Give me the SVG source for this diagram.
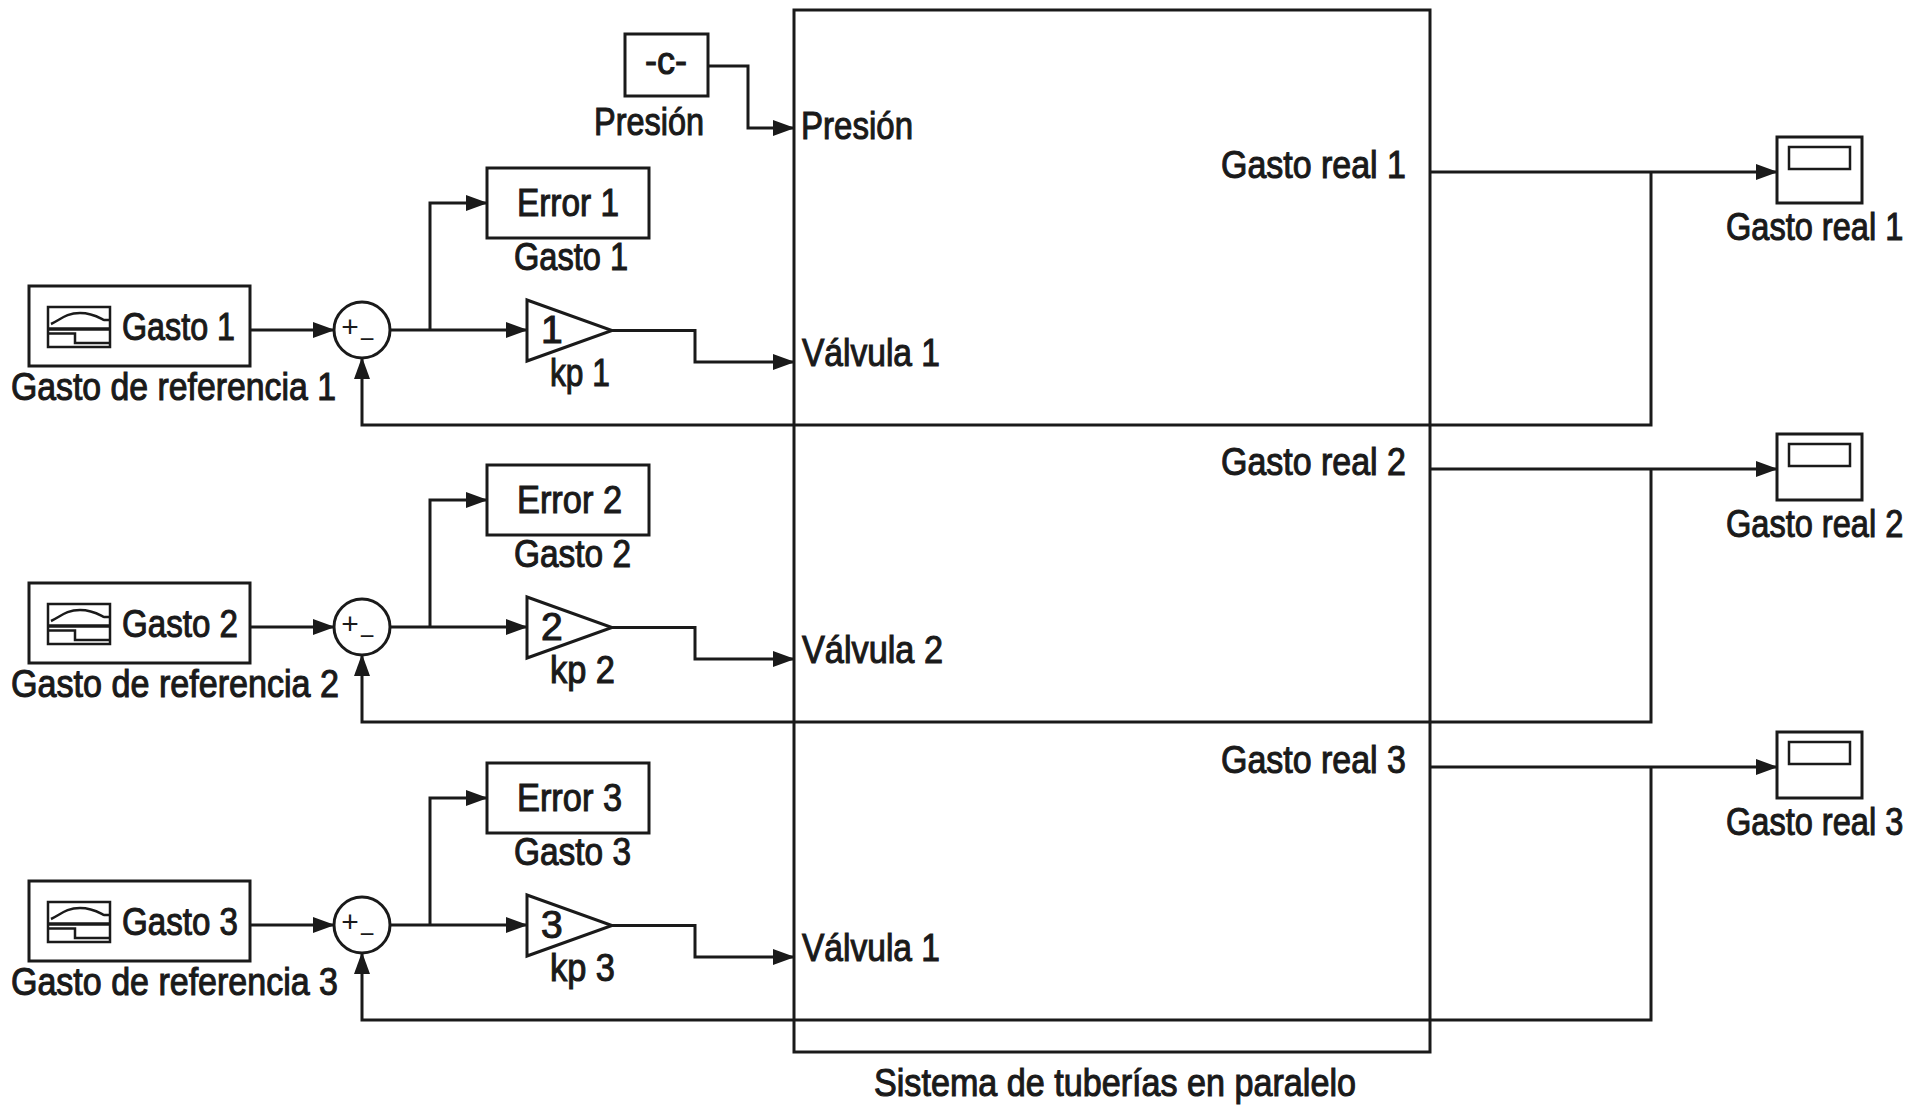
<svg xmlns="http://www.w3.org/2000/svg" width="1915" height="1110" viewBox="0 0 1915 1110">
<defs>
<style>
.ln{fill:none;stroke:#1a1a1a;stroke-width:3}
.bx{fill:#fff;stroke:#1a1a1a;stroke-width:3}
.nb{fill:none;stroke:#1a1a1a;stroke-width:2.5}
.t{font-family:'Liberation Sans',Arial,sans-serif;font-size:39px;fill:#1a1a1a;stroke:#1a1a1a;stroke-width:1.1}
.s{font-family:'Liberation Sans',Arial,sans-serif;fill:#1a1a1a;text-anchor:middle}
</style>
<marker id="ah" markerWidth="22" markerHeight="16" refX="21" refY="8" orient="auto" markerUnits="userSpaceOnUse"><path d="M0,0 L22,8 L0,16 z" fill="#1a1a1a"/></marker>
<g id="icon">
<rect x="0" y="0" width="62" height="40" class="nb"/>
<path d="M3,17 C12,13 18,6 32,6 C44,6 50,10 56,13 L62,13" class="nb"/>
<line x1="0" y1="22" x2="62" y2="22" stroke="#1a1a1a" stroke-width="3.5"/>
<path d="M0,26.5 H27 V36 H62" class="nb"/>
</g>
</defs>
<rect width="1915" height="1110" fill="#fff"/>

<g id="system">
<rect x="794" y="10" width="636" height="1042" class="ln"/>
<text class="t" x="801" y="139" textLength="112" lengthAdjust="spacingAndGlyphs">Presión</text>
<text class="t" x="1221" y="178" textLength="185" lengthAdjust="spacingAndGlyphs">Gasto real 1</text>
<text class="t" x="802" y="366" textLength="138" lengthAdjust="spacingAndGlyphs">Válvula 1</text>
<text class="t" x="1221" y="475" textLength="185" lengthAdjust="spacingAndGlyphs">Gasto real 2</text>
<text class="t" x="802" y="663" textLength="141" lengthAdjust="spacingAndGlyphs">Válvula 2</text>
<text class="t" x="1221" y="773" textLength="185" lengthAdjust="spacingAndGlyphs">Gasto real 3</text>
<text class="t" x="802" y="961" textLength="138" lengthAdjust="spacingAndGlyphs">Válvula 1</text>
<text class="t" x="874" y="1096" textLength="482" lengthAdjust="spacingAndGlyphs">Sistema de tuberías en paralelo</text>
</g>

<g id="presion">
<rect x="625" y="34" width="83" height="62" class="bx"/>
<text class="t" x="645" y="74" textLength="42" lengthAdjust="spacingAndGlyphs">-c-</text>
<text class="t" x="594" y="135" textLength="110" lengthAdjust="spacingAndGlyphs">Presión</text>
</g>

<g id="source1">
<rect x="29" y="286" width="221" height="80" class="bx"/>
<use href="#icon" x="48" y="307"/>
<text class="t" x="122" y="340" textLength="113" lengthAdjust="spacingAndGlyphs">Gasto 1</text>
<text class="t" x="11" y="400" textLength="325" lengthAdjust="spacingAndGlyphs">Gasto de referencia 1</text>
</g>
<g id="source2" transform="translate(0,297)">
<rect x="29" y="286" width="221" height="80" class="bx"/>
<use href="#icon" x="48" y="307"/>
<text class="t" x="122" y="340" textLength="116" lengthAdjust="spacingAndGlyphs">Gasto 2</text>
<text class="t" x="11" y="400" textLength="328" lengthAdjust="spacingAndGlyphs">Gasto de referencia 2</text>
</g>
<g id="source3" transform="translate(0,595)">
<rect x="29" y="286" width="221" height="80" class="bx"/>
<use href="#icon" x="48" y="307"/>
<text class="t" x="122" y="340" textLength="116" lengthAdjust="spacingAndGlyphs">Gasto 3</text>
<text class="t" x="11" y="400" textLength="327" lengthAdjust="spacingAndGlyphs">Gasto de referencia 3</text>
</g>

<g id="sum1">
<circle cx="362" cy="330" r="28" class="bx"/>
<text class="s" x="350" y="337" font-size="30">+</text>
<text class="s" x="367" y="348" font-size="26">−</text>
</g>
<g id="sum2" transform="translate(0,297)">
<circle cx="362" cy="330" r="28" class="bx"/>
<text class="s" x="350" y="337" font-size="30">+</text>
<text class="s" x="367" y="348" font-size="26">−</text>
</g>
<g id="sum3" transform="translate(0,595)">
<circle cx="362" cy="330" r="28" class="bx"/>
<text class="s" x="350" y="337" font-size="30">+</text>
<text class="s" x="367" y="348" font-size="26">−</text>
</g>

<g id="error1">
<rect x="487" y="168" width="162" height="70" class="bx"/>
<text class="t" x="517" y="216" textLength="102" lengthAdjust="spacingAndGlyphs">Error 1</text>
<text class="t" x="514" y="270" textLength="114" lengthAdjust="spacingAndGlyphs">Gasto 1</text>
</g>
<g id="error2" transform="translate(0,297)">
<rect x="487" y="168" width="162" height="70" class="bx"/>
<text class="t" x="517" y="216" textLength="105" lengthAdjust="spacingAndGlyphs">Error 2</text>
<text class="t" x="514" y="270" textLength="117" lengthAdjust="spacingAndGlyphs">Gasto 2</text>
</g>
<g id="error3" transform="translate(0,595)">
<rect x="487" y="168" width="162" height="70" class="bx"/>
<text class="t" x="517" y="216" textLength="105" lengthAdjust="spacingAndGlyphs">Error 3</text>
<text class="t" x="514" y="270" textLength="117" lengthAdjust="spacingAndGlyphs">Gasto 3</text>
</g>

<g id="gain1">
<polygon points="527,300 612,330.5 527,361" class="bx"/>
<text class="t" x="541" y="343" font-size="30">1</text>
<text class="t" x="550" y="386" font-size="37" textLength="60" lengthAdjust="spacingAndGlyphs">kp 1</text>
</g>
<g id="gain2" transform="translate(0,297)">
<polygon points="527,300 612,330.5 527,361" class="bx"/>
<text class="t" x="541" y="343" font-size="30">2</text>
<text class="t" x="550" y="386" font-size="37" textLength="65" lengthAdjust="spacingAndGlyphs">kp 2</text>
</g>
<g id="gain3" transform="translate(0,595)">
<polygon points="527,300 612,330.5 527,361" class="bx"/>
<text class="t" x="541" y="343" font-size="30">3</text>
<text class="t" x="550" y="386" font-size="37" textLength="65" lengthAdjust="spacingAndGlyphs">kp 3</text>
</g>

<g id="scope1">
<rect x="1777" y="137" width="85" height="66" class="bx"/>
<rect x="1789" y="147" width="61" height="22" class="nb"/>
<text class="t" transform="translate(1726,240) scale(0.835,1)">Gasto real 1</text>
</g>
<g id="scope2" transform="translate(0,297)">
<rect x="1777" y="137" width="85" height="66" class="bx"/>
<rect x="1789" y="147" width="61" height="22" class="nb"/>
<text class="t" transform="translate(1726,240) scale(0.835,1)">Gasto real 2</text>
</g>
<g id="scope3" transform="translate(0,595)">
<rect x="1777" y="137" width="85" height="66" class="bx"/>
<rect x="1789" y="147" width="61" height="22" class="nb"/>
<text class="t" transform="translate(1726,240) scale(0.835,1)">Gasto real 3</text>
</g>

<g id="connectors">
<path d="M708,66 H748 V128 H794" class="ln" marker-end="url(#ah)"/>
<path d="M250,330 H334" class="ln" marker-end="url(#ah)"/>
<path d="M390,330 H527" class="ln" marker-end="url(#ah)"/>
<path d="M430,330 V203 H487" class="ln" marker-end="url(#ah)"/>
<path d="M612,330.5 H695 V362 H794" class="ln" marker-end="url(#ah)"/>
<path d="M1430,172 H1777" class="ln" marker-end="url(#ah)"/>
<path d="M1651,172 V425 H362 V358" class="ln" marker-end="url(#ah)"/>
<path d="M250,627 H334" class="ln" marker-end="url(#ah)"/>
<path d="M390,627 H527" class="ln" marker-end="url(#ah)"/>
<path d="M430,627 V500 H487" class="ln" marker-end="url(#ah)"/>
<path d="M612,627.5 H695 V659 H794" class="ln" marker-end="url(#ah)"/>
<path d="M1430,469 H1777" class="ln" marker-end="url(#ah)"/>
<path d="M1651,469 V722 H362 V655" class="ln" marker-end="url(#ah)"/>
<path d="M250,925 H334" class="ln" marker-end="url(#ah)"/>
<path d="M390,925 H527" class="ln" marker-end="url(#ah)"/>
<path d="M430,925 V798 H487" class="ln" marker-end="url(#ah)"/>
<path d="M612,925.5 H695 V957 H794" class="ln" marker-end="url(#ah)"/>
<path d="M1430,767 H1777" class="ln" marker-end="url(#ah)"/>
<path d="M1651,767 V1020 H362 V953" class="ln" marker-end="url(#ah)"/>
</g>
</svg>
